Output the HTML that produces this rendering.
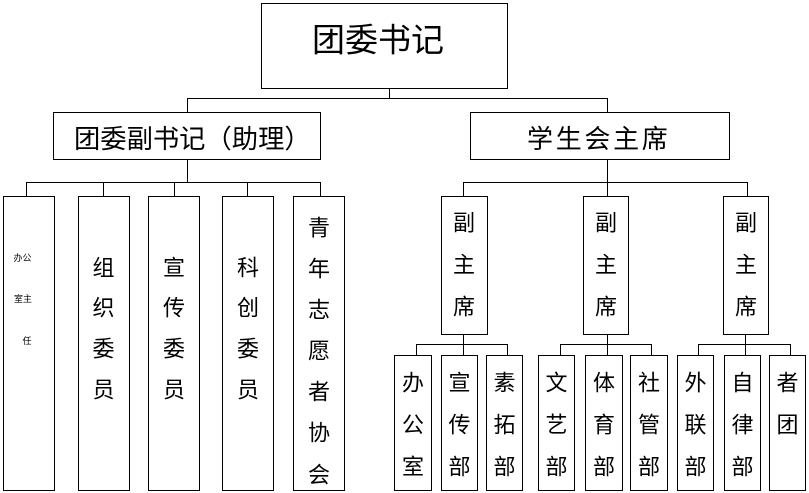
<!DOCTYPE html>
<html><head><meta charset="utf-8"><style>
html,body{margin:0;padding:0;background:#fff;}
svg{display:block;}
text{font-family:"Liberation Sans","Noto Sans CJK SC",sans-serif;fill:#000;}
</style></head><body>
<svg width="809" height="493" viewBox="0 0 809 493" xmlns="http://www.w3.org/2000/svg">
<g fill="none" stroke="#000" stroke-width="1" shape-rendering="crispEdges">
<!-- boxes -->
<rect x="261.5" y="3.5" width="246" height="85"/>
<rect x="53.5" y="112.5" width="267" height="47"/>
<rect x="470.5" y="112.5" width="259" height="47"/>
<rect x="3.5" y="196.5" width="51" height="294"/>
<rect x="78.5" y="196.5" width="51" height="294"/>
<rect x="148.5" y="196.5" width="51" height="294"/>
<rect x="222.5" y="196.5" width="51" height="294"/>
<rect x="293.5" y="196.5" width="51" height="294"/>
<rect x="441.5" y="196.5" width="46" height="138"/>
<rect x="583.5" y="196.5" width="45" height="138"/>
<rect x="723.5" y="196.5" width="45" height="138"/>
<rect x="394.5" y="355.5" width="37" height="135"/>
<rect x="441.5" y="355.5" width="36" height="135"/>
<rect x="486.5" y="355.5" width="36" height="135"/>
<rect x="538.5" y="355.5" width="36" height="135"/>
<rect x="585.5" y="355.5" width="37" height="135"/>
<rect x="630.5" y="355.5" width="37" height="135"/>
<rect x="677.5" y="355.5" width="36" height="135"/>
<rect x="724.5" y="355.5" width="36" height="135"/>
<rect x="769.5" y="355.5" width="36" height="135"/>
<!-- connectors -->
<path d="M389.5 88V98.5M187.5 112V98.5H607.5V112"/>
<path d="M187.5 159V182.5M26.5 196V182.5H320.5V196M103.5 182.5V196M174.5 182.5V196M247.5 182.5V196"/>
<path d="M607.5 159V182.5M463.5 196V182.5H747.5V196M607.5 182.5V196"/>
<path d="M463.5 334V344.5M416.5 355V344.5H507.5V355M463.5 344.5V355"/>
<path d="M607.5 334V344.5M560.5 355V344.5H651.5V355M607.5 344.5V355"/>
<path d="M745.5 334V344.5M698.5 355V344.5H790.5V355M745.5 344.5V355"/>
</g>
<g dominant-baseline="central">
<text x="312" y="40" font-size="33">团委书记</text>
<text x="74" y="139" font-size="26.3">团委副书记（助理）</text>
<text x="527" y="139" font-size="26" letter-spacing="2.7">学生会主席</text>
</g>
<g dominant-baseline="central" text-anchor="middle">
<text x="22.5" y="258" font-size="9">办公</text>
<text x="23" y="299" font-size="9">室主</text>
<text x="27" y="341" font-size="9">任</text>
</g>
<g dominant-baseline="central" text-anchor="middle" font-size="22">
<text x="103.5" y="268">组</text><text x="103.5" y="308">织</text><text x="103.5" y="349">委</text><text x="103.5" y="390">员</text>
<text x="174" y="268">宣</text><text x="174" y="308">传</text><text x="174" y="349">委</text><text x="174" y="390">员</text>
<text x="248" y="268">科</text><text x="248" y="308">创</text><text x="248" y="349">委</text><text x="248" y="390">员</text>
<text x="319" y="228">青</text><text x="319" y="269">年</text><text x="319" y="310">志</text><text x="319" y="351">愿</text><text x="319" y="392">者</text><text x="319" y="433">协</text><text x="319" y="475">会</text>
<text x="464" y="223">副</text><text x="464" y="265">主</text><text x="464" y="307">席</text>
<text x="606" y="223">副</text><text x="606" y="265">主</text><text x="606" y="307">席</text>
<text x="746" y="223">副</text><text x="746" y="265">主</text><text x="746" y="307">席</text>
<text x="413" y="383">办</text><text x="413" y="425">公</text><text x="413" y="467">室</text>
<text x="459.5" y="383">宣</text><text x="459.5" y="425">传</text><text x="459.5" y="467">部</text>
<text x="504.5" y="383">素</text><text x="504.5" y="425">拓</text><text x="504.5" y="467">部</text>
<text x="556.5" y="383">文</text><text x="556.5" y="425">艺</text><text x="556.5" y="467">部</text>
<text x="604" y="383">体</text><text x="604" y="425">育</text><text x="604" y="467">部</text>
<text x="649" y="383">社</text><text x="649" y="425">管</text><text x="649" y="467">部</text>
<text x="695.5" y="383">外</text><text x="695.5" y="425">联</text><text x="695.5" y="467">部</text>
<text x="742.5" y="383">自</text><text x="742.5" y="425">律</text><text x="742.5" y="467">部</text>
<text x="787.5" y="383">者</text><text x="787.5" y="425">团</text>
</g>
</svg>
</body></html>
